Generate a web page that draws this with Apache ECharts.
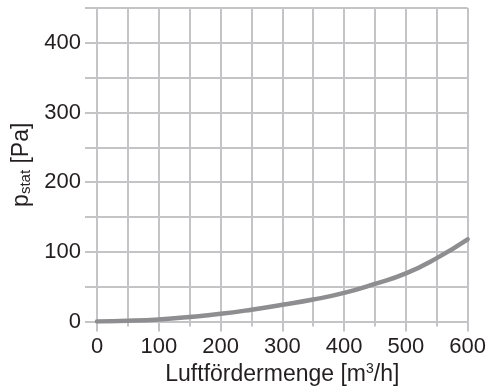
<!DOCTYPE html>
<html>
<head>
<meta charset="utf-8">
<script src="https://cdn.jsdelivr.net/npm/echarts@6/dist/echarts.min.js"></script>
<style>html,body{margin:0;padding:0;background:#fff}#c{width:489px;height:392px}</style>
</head>
<body>
<div id="c"></div>
<script>
var flowValues = [0, 50, 100, 150, 200, 250, 300, 350, 400, 450, 500, 550, 600];
var pressureValues = [0, 1, 3, 6.5, 11, 17, 24, 31.5, 41, 54, 69, 91, 118];
var xTickLabels = [0, 100, 200, 300, 400, 500, 600];
var yTickLabels = [0, 100, 200, 300, 400];

var GRID = '#c4c4c6';
var TXT = '#231f20';
var FONT = '"Liberation Sans", Arial, sans-serif';

var chart = echarts.init(document.getElementById('c'));
var seriesData = flowValues.map(function (x, i) { return [x, pressureValues[i]]; });

chart.setOption({
  animation: false,
  grid: { left: 97, right: 21, top: 8, bottom: 70.5 },
  xAxis: [
    {
      type: 'value', min: 0, max: 600, interval: 50,
      axisLine: { show: true, lineStyle: { color: GRID, width: 2 } },
      axisTick: { show: true, length: 5, lineStyle: { color: GRID, width: 2 } },
      splitLine: { show: true, lineStyle: { color: GRID, width: 2 } },
      axisLabel: { show: false }
    },
    {
      type: 'value', min: 0, max: 600, interval: 100, position: 'bottom',
      axisLine: { show: false },
      axisTick: { show: true, length: 10, lineStyle: { color: GRID, width: 2 } },
      splitLine: { show: false },
      axisLabel: {
        show: true, margin: 14, color: TXT, fontSize: 22, fontFamily: FONT,
        formatter: function (v) { return xTickLabels.indexOf(v) >= 0 ? String(v) : ''; }
      },
      name: 'Luftfördermenge [m{sup|3}/h]',
      nameLocation: 'middle', nameGap: 41,
      nameTextStyle: {
        color: TXT, fontSize: 23, fontFamily: FONT,
        rich: { sup: { fontSize: 14, verticalAlign: 'top', color: TXT, fontFamily: FONT, padding: [0, 0, 10, 0] } }
      }
    }
  ],
  yAxis: [
    {
      type: 'value', min: 0, max: 450, interval: 50,
      axisLine: { show: true, lineStyle: { color: GRID, width: 2 } },
      axisTick: { show: true, length: 5, lineStyle: { color: GRID, width: 2 } },
      splitLine: { show: true, lineStyle: { color: GRID, width: 2 } },
      axisLabel: { show: false }
    },
    {
      type: 'value', min: 0, max: 450, interval: 50, position: 'left',
      axisLine: { show: false },
      axisTick: {
        show: true, length: 12, lineStyle: { color: GRID, width: 2 },
        interval: function (idx, v) { return yTickLabels.indexOf(Number(v)) >= 0; }
      },
      splitLine: { show: false },
      axisLabel: {
        show: true, margin: 16, color: TXT, fontSize: 22, fontFamily: FONT,
        formatter: function (v) { return yTickLabels.indexOf(v) >= 0 ? String(v) : ''; }
      },
      name: 'p{sub|stat} [Pa]',
      nameLocation: 'middle', nameGap: 61, nameRotate: 90,
      nameTextStyle: {
        color: TXT, fontSize: 23, fontFamily: FONT,
        rich: { sub: { fontSize: 15, verticalAlign: 'bottom', color: TXT, fontFamily: FONT, padding: [9, 0, 0, 0] } }
      }
    }
  ],
  series: [{
    type: 'line', xAxisIndex: 0, yAxisIndex: 0,
    data: seriesData, smooth: true, showSymbol: false, symbol: 'none',
    lineStyle: { color: '#8e8e90', width: 4.5, cap: 'round' }
  }]
});
</script>
</body>
</html>
